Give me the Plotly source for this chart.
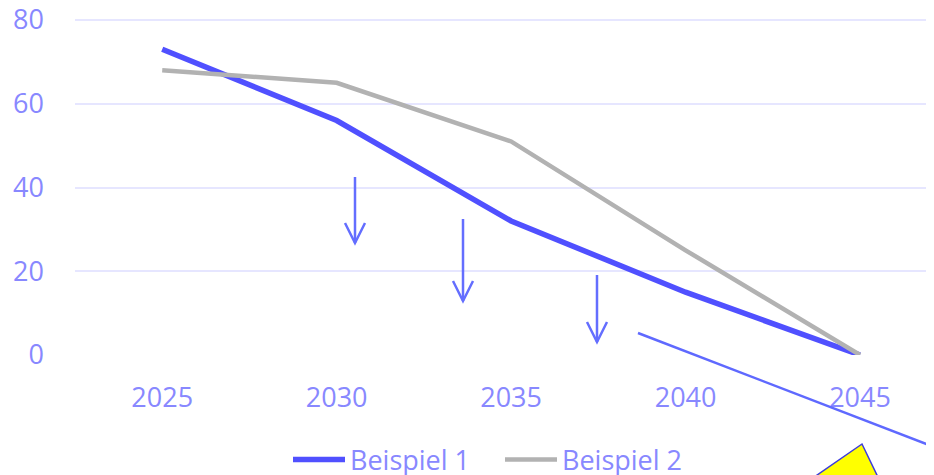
import plotly.graph_objects as go

years = ["2025", "2030", "2035", "2040", "2045"]
beispiel_1 = [73, 56, 32, 15, 0]
beispiel_2 = [68, 65, 51, 25, 0]
y_ticks = [0, 20, 40, 60, 80]

OFF = 8  # page body margin
W, H = 934 - OFF, 475 - OFF
ML, MR, MT = 75 - OFF, 0, 8
Y0 = 355 - OFF           # figure row of value 0
MB = H - Y0
PW, PH = W - ML - MR, H - MT - MB
YMAX = 80 * PH / (Y0 - (20 - OFF))

TXT = "rgb(136,136,255)"
FONT = "'Open Sans', Carlito, Lato, sans-serif"


def px(x, y):
    # page pixel -> paper coords
    return (x - OFF - ML) / PW, (Y0 - (y - OFF)) / PH


def path(points, close=False):
    parts = []
    for i, (x, y) in enumerate(points):
        a, b = px(x, y)
        parts.append(("M" if i == 0 else "L") + f"{a:.5f},{b:.5f}")
    return " ".join(parts) + (" Z" if close else "")


fig = go.Figure()
fig.add_trace(go.Scatter(x=years, y=beispiel_1, mode="lines", name="Beispiel 1",
                         line=dict(color="rgb(80,80,255)", width=5.5)))
fig.add_trace(go.Scatter(x=years, y=beispiel_2, mode="lines", name="Beispiel 2",
                         line=dict(color="rgb(178,178,178)", width=4.5)))

shapes = []
arrow_col = "rgb(100,110,255)"
for (x, top, tip) in [(355, 177, 243), (463, 219, 301), (597, 275, 342)]:
    shapes.append(dict(type="path", xref="paper", yref="paper",
                       path=path([(x, top), (x, tip)]),
                       line=dict(color=arrow_col, width=2.5)))
    shapes.append(dict(type="path", xref="paper", yref="paper",
                       path=path([(x - 10, tip - 20), (x, tip), (x + 10, tip - 20)]),
                       line=dict(color=arrow_col, width=2.5)))

# diagonal line
shapes.append(dict(type="path", xref="paper", yref="paper",
                   path=path([(638, 333), (960, 457)]),
                   line=dict(color="rgb(95,105,255)", width=2.5)))
# yellow triangle
shapes.append(dict(type="path", xref="paper", yref="paper",
                   path=path([(862, 444), (781, 500), (889, 500)], close=True),
                   fillcolor="rgb(255,255,0)",
                   line=dict(color="rgb(60,60,220)", width=1.5)))

leg_x, leg_y = px(500, 460)

fig.update_layout(
    width=W, height=H,
    margin=dict(l=ML, r=MR, t=MT, b=MB, autoexpand=False),
    paper_bgcolor="white", plot_bgcolor="white",
    font=dict(family=FONT, size=27, color=TXT),
    showlegend=True,
    legend=dict(orientation="h", x=leg_x, xanchor="center", y=leg_y, yanchor="middle",
                font=dict(size=27, color=TXT), itemwidth=52, entrywidth=145,
                tracegroupgap=0),
    shapes=shapes,
    xaxis=dict(type="category", range=[-0.5, (934 - 162) / 174.5], automargin=False,
               showgrid=False, zeroline=False, showline=False, ticks="",
               ticklabelstandoff=24, tickfont=dict(size=27, color=TXT)),
    yaxis=dict(range=[0, YMAX], tickvals=y_ticks, showgrid=True, automargin=False,
               gridcolor="rgb(230,230,255)", gridwidth=2, zeroline=False,
               showline=False, ticks="", ticklabelstandoff=30,
               ticklabeloverflow="allow",
               tickfont=dict(size=27, color=TXT)),
)

fig.write_html("out.html")
